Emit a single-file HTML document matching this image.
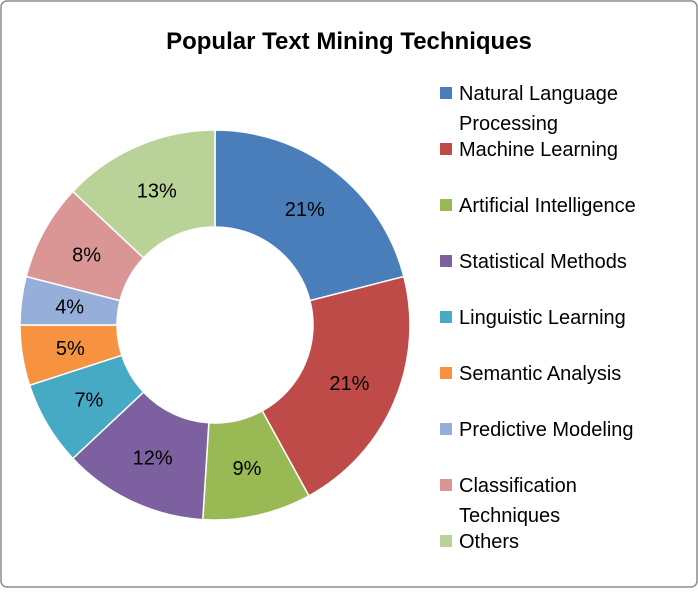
<!DOCTYPE html>
<html><head><meta charset="utf-8"><style>
body{margin:0;background:#fff;font-family:"Liberation Sans",Carlito,sans-serif}
svg text{font-family:"Liberation Sans",sans-serif}
</style></head><body>
<svg id="chart" width="698" height="588" xmlns="http://www.w3.org/2000/svg">
<rect x="1" y="1" width="696" height="586" rx="6" fill="#fff" stroke="#8c8c8c" stroke-width="1.5"/>
<text x="349" y="49" text-anchor="middle" font-size="24" font-weight="bold">Popular Text Mining Techniques</text>
<g id="slices"></g><g id="legend"></g>
</svg>
<script>
const categories=["Natural Language Processing","Machine Learning","Artificial Intelligence","Statistical Methods","Linguistic Learning","Semantic Analysis","Predictive Modeling","Classification Techniques","Others"];
const values=[21,21,9,12,7,5,4,8,13];
const legendLines=[["Natural Language","Processing"],["Machine Learning"],["Artificial Intelligence"],["Statistical Methods"],["Linguistic Learning"],["Semantic Analysis"],["Predictive Modeling"],["Classification","Techniques"],["Others"]];
const colors=["#4A7EBB","#BE4B48","#98B954","#7D60A0","#46AAC5","#F69240","#95AEDA","#DA9694","#B9D297"];
const NS="http://www.w3.org/2000/svg";
const cx=215,cy=325,R=195,r=98;
const total=values.reduce((a,b)=>a+b,0);
const g=document.getElementById('slices');
let a0=0;
function pt(rad,a){return [cx+rad*Math.sin(a),cy-rad*Math.cos(a)];}
values.forEach((v,i)=>{
 const a1=a0+v/total*2*Math.PI;
 const lg=(a1-a0)>Math.PI?1:0;
 const [x0,y0]=pt(R,a0),[x1,y1]=pt(R,a1),[x2,y2]=pt(r,a1),[x3,y3]=pt(r,a0);
 const p=document.createElementNS(NS,'path');
 p.setAttribute('d',`M${x0},${y0}A${R},${R} 0 ${lg} 1 ${x1},${y1}L${x2},${y2}A${r},${r} 0 ${lg} 0 ${x3},${y3}Z`);
 p.setAttribute('fill',colors[i]);p.setAttribute('stroke','#fff');p.setAttribute('stroke-width','1.5');
 
 
 g.appendChild(p);
 const [lx,ly]=pt((R+r)/2,(a0+a1)/2);
 const t=document.createElementNS(NS,'text');
 t.setAttribute('x',lx);t.setAttribute('y',ly+7);t.setAttribute('text-anchor','middle');t.setAttribute('font-size','20');
 t.textContent=Math.round(v/total*100)+'%';
 
 
 g.appendChild(t);
 a0=a1;
});
const lgd=document.getElementById('legend');
categories.forEach((c,i)=>{
 const y=93+i*56;
 const s=document.createElementNS(NS,'rect');
 s.setAttribute('x',440);s.setAttribute('y',y-6);s.setAttribute('width',12);s.setAttribute('height',12);s.setAttribute('fill',colors[i]);
 
 
 lgd.appendChild(s);
 legendLines[i].forEach((ln,j)=>{
  const t=document.createElementNS(NS,'text');
  t.setAttribute('x',459);t.setAttribute('y',y+7+j*30);t.setAttribute('font-size','20');
  t.textContent=ln;
  
  
  lgd.appendChild(t);
 });
});
</script>
</body></html>
